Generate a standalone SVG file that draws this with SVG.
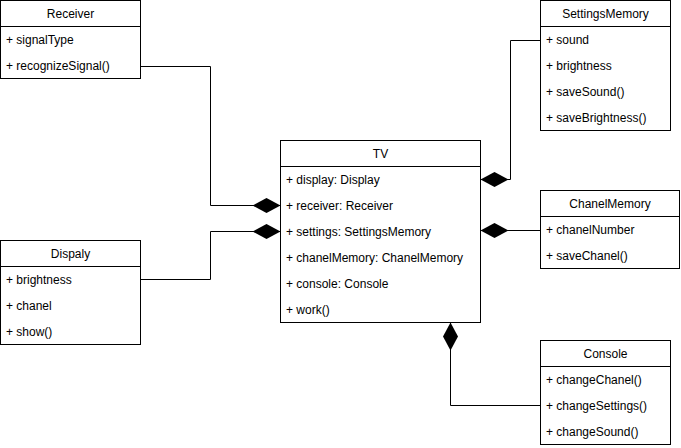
<svg xmlns="http://www.w3.org/2000/svg" width="681" height="448" viewBox="0 0 681 448">
<defs>
<style>
.box{fill:#fff;stroke:#000;stroke-width:1}
.sep{stroke:#000;stroke-width:1}
.t{font-family:"Liberation Sans",Arial,sans-serif;font-size:12px;fill:#000}
.h{text-anchor:middle}
.c{fill:none;stroke:#000;stroke-width:1}
</style>
<marker id="dia" viewBox="0 0 28 15" refX="28" refY="7.5" markerWidth="28" markerHeight="15" markerUnits="userSpaceOnUse" orient="auto">
<path d="M0,7.5 L14,0 L28,7.5 L14,15 Z" fill="#000"/>
</marker>
</defs>
<rect width="681" height="448" fill="#fff"/>
<g id="connectors">
<path class="c" d="M140.5,66.5 H210.5 V205.5 H280.5" marker-end="url(#dia)"/>
<path class="c" d="M140.5,279.5 H210.5 V231.5 H280.5" marker-end="url(#dia)"/>
<path class="c" d="M540.5,40.5 H510.5 V179.5 H480.5" marker-end="url(#dia)"/>
<path class="c" d="M540.5,230.5 H480.5" marker-end="url(#dia)"/>
<path class="c" d="M540.5,405.5 H450.5 V322.5" marker-end="url(#dia)"/>
</g>
<g id="receiver">
<rect class="box" x="0.5" y="0.5" width="140" height="78"/>
<line class="sep" x1="0.5" y1="26.5" x2="140.5" y2="26.5"/>
<text class="t h" x="70.5" y="18">Receiver</text>
<text class="t" x="6" y="44">+ signalType</text>
<text class="t" x="6" y="70">+ recognizeSignal()</text>
</g>
<g id="dispaly">
<rect class="box" x="0.5" y="240.5" width="140" height="104"/>
<line class="sep" x1="0.5" y1="266.5" x2="140.5" y2="266.5"/>
<text class="t h" x="70.5" y="258">Dispaly</text>
<text class="t" x="6" y="284">+ brightness</text>
<text class="t" x="6" y="310">+ chanel</text>
<text class="t" x="6" y="336">+ show()</text>
</g>
<g id="tv">
<rect class="box" x="280.5" y="140.5" width="200" height="182"/>
<line class="sep" x1="280.5" y1="166.5" x2="480.5" y2="166.5"/>
<text class="t h" x="380.5" y="158">TV</text>
<text class="t" x="286" y="184">+ display: Display</text>
<text class="t" x="286" y="210">+ receiver: Receiver</text>
<text class="t" x="286" y="236">+ settings: SettingsMemory</text>
<text class="t" x="286" y="262">+ chanelMemory: ChanelMemory</text>
<text class="t" x="286" y="288">+ console: Console</text>
<text class="t" x="286" y="314">+ work()</text>
</g>
<g id="settingsmemory">
<rect class="box" x="540.5" y="0.5" width="130" height="130"/>
<line class="sep" x1="540.5" y1="26.5" x2="670.5" y2="26.5"/>
<text class="t h" x="605.5" y="18">SettingsMemory</text>
<text class="t" x="546" y="44">+ sound</text>
<text class="t" x="546" y="70">+ brightness</text>
<text class="t" x="546" y="96">+ saveSound()</text>
<text class="t" x="546" y="122">+ saveBrightness()</text>
</g>
<g id="chanelmemory">
<rect class="box" x="540.5" y="190.5" width="139" height="78"/>
<line class="sep" x1="540.5" y1="216.5" x2="679.5" y2="216.5"/>
<text class="t h" x="610" y="208">ChanelMemory</text>
<text class="t" x="546" y="234">+ chanelNumber</text>
<text class="t" x="546" y="260">+ saveChanel()</text>
</g>
<g id="console">
<rect class="box" x="540.5" y="340.5" width="130" height="104"/>
<line class="sep" x1="540.5" y1="366.5" x2="670.5" y2="366.5"/>
<text class="t h" x="605.5" y="358">Console</text>
<text class="t" x="546" y="384">+ changeChanel()</text>
<text class="t" x="546" y="410">+ changeSettings()</text>
<text class="t" x="546" y="436">+ changeSound()</text>
</g>
</svg>
